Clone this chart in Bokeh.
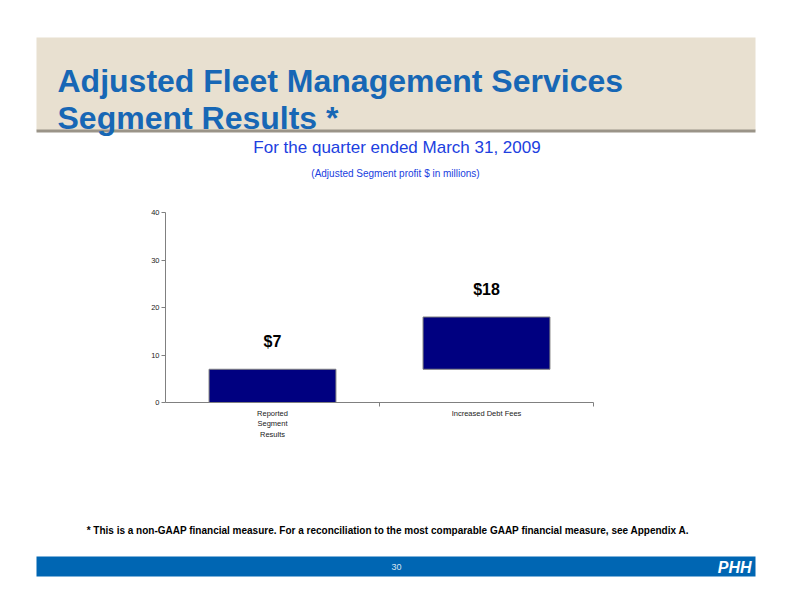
from bokeh.plotting import figure
from bokeh.models import FixedTicker, ColumnDataSource, Range1d
from bokeh.layouts import column, row
from bokeh.embed import file_html
from bokeh.resources import INLINE
from bokeh.core.properties import value

# ---- data ----
categories = ["Reported\nSegment\nResults", "Increased Debt Fees"]
bar_bottoms = [0, 7]
bar_tops = [7, 18]
bar_labels = ["$7", "$18"]
y_ticks = [0, 10, 20, 30, 40]

title_lines = ["Adjusted Fleet Management Services", "Segment Results *"]
subtitle = "For the quarter ended March 31, 2009"
units_note = "(Adjusted Segment profit $ in millions)"
footnote = ("* This is a non-GAAP financial measure.  For a reconciliation to the most "
            "comparable GAAP financial measure, see Appendix A.")
page_number = "30"
logo = "PHH"

FONT = "Liberation Sans"
W = 776


def page_fig(height, y0):
    """A decoration figure whose data coords are page pixels (y downward)."""
    f = figure(width=W, height=height, output_backend="svg", toolbar_location=None,
               x_range=Range1d(0, W), y_range=Range1d(y0 + height, y0),
               min_border=0, min_border_left=0, min_border_right=0,
               min_border_top=0, min_border_bottom=0)
    f.axis.visible = False
    f.grid.grid_line_color = None
    f.outline_line_color = None
    f.background_fill_color = "white"
    f.border_fill_color = "white"
    return f


# ---- header ----
top = page_fig(190, 0)
top.quad(left=36, right=755, top=37, bottom=130, fill_color="#E8E0D0", line_color=None)
top.quad(left=36, right=755, top=129, bottom=132, fill_color="#9A9488", line_color=None)
top.text(x=[57, 57], y=[80, 117], text=title_lines, text_font=value(FONT),
         text_font_style="bold", text_font_size="32px", text_color="#1767B5",
         text_baseline="alphabetic")
top.text(x=[396.5], y=[147], text=[subtitle], text_font=value(FONT), text_font_size="17px",
         text_color="#2040E0", text_align="center", text_baseline="middle")
top.text(x=[395], y=[173], text=[units_note], text_font=value(FONT), text_font_size="10px",
         text_color="#2040E0", text_align="center", text_baseline="middle")

# ---- chart ----
centers = [i + 0.5 for i in range(len(categories))]
src = ColumnDataSource(dict(x=centers, bottom=bar_bottoms, top=bar_tops, label=bar_labels))

p = figure(width=W, height=270, output_backend="svg", toolbar_location=None,
           x_range=Range1d(0, len(categories)), y_range=Range1d(0, 40),
           min_border_left=165, min_border_right=W - 593, min_border_top=22,
           min_border_bottom=58)
p.outline_line_color = None
p.grid.grid_line_color = None
p.background_fill_color = "white"
p.border_fill_color = "white"

p.vbar(x="x", bottom="bottom", top="top", width=0.593, source=src,
       fill_color="#000080", line_color="#7f7f7f", line_width=1)
p.text(x="x", y="top", text="label", source=src, text_align="center", text_baseline="middle",
       y_offset=-28, text_font=value(FONT), text_font_style="bold", text_font_size="16px",
       text_color="black")

p.yaxis.ticker = FixedTicker(ticks=y_ticks)
p.yaxis.axis_line_color = "#808080"
p.yaxis.major_tick_line_color = "#808080"
p.yaxis.major_tick_out = 4
p.yaxis.major_tick_in = 0
p.yaxis.minor_tick_line_color = None
p.yaxis.major_label_text_font = FONT
p.yaxis.major_label_text_font_size = "7.5px"
p.yaxis.major_label_text_color = "#222222"
p.yaxis.major_label_standoff = 2

p.xaxis.ticker = FixedTicker(ticks=centers, minor_ticks=list(range(1, len(categories) + 1)))
p.xaxis.major_label_overrides = {c: lab for c, lab in zip(centers, categories)}
p.xaxis.axis_line_color = "#808080"
p.xaxis.major_tick_line_color = None
p.xaxis.minor_tick_line_color = "#808080"
p.xaxis.minor_tick_out = 4
p.xaxis.minor_tick_in = 0
p.xaxis.major_label_text_font = FONT
p.xaxis.major_label_text_font_size = "7.5px"
p.xaxis.major_label_text_color = "#222222"
p.xaxis.major_label_standoff = 0

# ---- footer ----
bot = page_fig(136, 460)
bot.text(x=[389], y=[530], text=[footnote], text_font=value(FONT), text_font_style="bold",
         text_font_size="10px", text_color="black", text_align="center", text_baseline="middle")
bot.quad(left=36, right=755, top=556, bottom=576, fill_color="#0066B3", line_color=None)
bot.text(x=[396], y=[566], text=[page_number], text_font=value(FONT), text_font_size="9px",
         text_color="#D8E4F0", text_align="center", text_baseline="middle")
bot.text(x=[751], y=[567], text=[logo], text_font=value(FONT), text_font_style="bold italic",
         text_font_size="16px", text_color="white", text_align="right", text_baseline="middle")

layout = column(row(top), row(p), row(bot), spacing=0)
open("out.html", "w").write(file_html(layout, INLINE))
